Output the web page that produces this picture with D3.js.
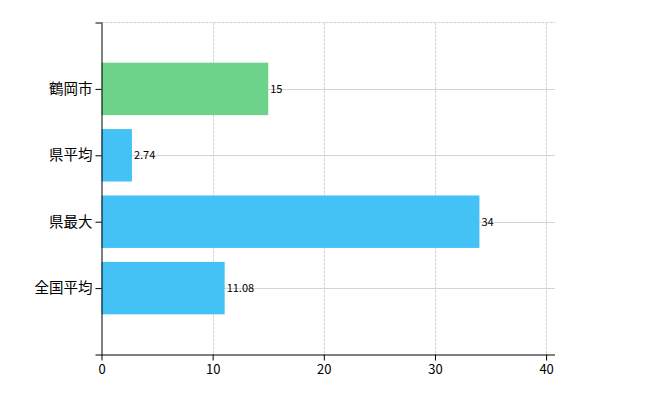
<!DOCTYPE html>
<html><head><meta charset="utf-8">
<script src="https://cdn.jsdelivr.net/npm/d3@7"></script>
<style>
body{margin:0;background:#fff;}
text{font-family:"Segoe UI","Noto Sans CJK JP",sans-serif;}
</style></head>
<body><svg id="c" width="650" height="400"></svg>
<script>
const categories = ["鶴岡市","県平均","県最大","全国平均"];
const values = [15, 2.74, 34, 11.08];
const valueLabels = ["15","2.74","34","11.08"];
const barColors = ["#6dd38a","#44c2f6","#44c2f6","#44c2f6"];
const xTicks = [0,10,20,30,40];

(function(){
const svg = d3.select("#c");
const pL = 101.5, pR = 555, pT = 22.5, pB = 354.5;
const x = d3.scaleLinear().domain([0, 40.8]).range([pL, pR]);
const y = d3.scalePoint().domain(categories).range([pT, pB]).padding(1);
const bh = y.step() * 0.79;

// vertical grid
svg.append("g").selectAll("line").data(xTicks.slice(1)).join("line")
  .attr("x1", d => Math.round(x(d)) + 0.5).attr("x2", d => Math.round(x(d)) + 0.5)
  .attr("y1", pT).attr("y2", pB)
  .attr("stroke", "#d4d4d4").attr("stroke-dasharray", "3,1");
// top grid line
svg.append("line").attr("x1", pL).attr("x2", pR).attr("y1", pT).attr("y2", pT)
  .attr("stroke", "#d4d4d4").attr("stroke-dasharray", "3,1");
// horizontal grid at categories
svg.append("g").selectAll("line").data(categories).join("line")
  .attr("x1", pL).attr("x2", pR)
  .attr("y1", d => Math.round(y(d)) + 0.5).attr("y2", d => Math.round(y(d)) + 0.5)
  .attr("stroke", "#d4d4d4");

// bars
svg.append("g").selectAll("rect").data(categories).join("rect")
  .attr("x", x(0)).attr("y", d => y(d) - bh / 2)
  .attr("width", (d, i) => x(values[i]) - x(0)).attr("height", bh)
  .attr("fill", (d, i) => barColors[i]);

// value labels
svg.append("g").selectAll("text").data(categories).join("text")
  .attr("x", (d, i) => x(values[i]) + 2).attr("y", d => y(d) + 4)
  .attr("font-size", 11).attr("fill", "#000")
  .text((d, i) => valueLabels[i]);

// axes
const xAxis = d3.axisBottom(x).tickValues(xTicks).tickSizeOuter(0).tickSize(6).tickPadding(4);
const gx = svg.append("g").attr("transform", `translate(0,${pB})`).call(xAxis);
gx.select(".domain").attr("d", `M${pL - 6},0.5H${pR}`);
gx.selectAll("text").attr("font-size", 13).attr("font-family", '"Segoe UI","Noto Sans CJK JP",sans-serif').attr("fill", "#000");
gx.selectAll("line").attr("stroke", "#000");

const yAxis = d3.axisLeft(y).tickSize(6).tickSizeOuter(0).tickPadding(3);
const gy = svg.append("g").attr("transform", `translate(${pL},0)`).call(yAxis);
gy.select(".domain").attr("d", `M0.5,${pT}V${pB}`);
gy.append("line").attr("x1", -6).attr("x2", 0).attr("y1", pT + 0.5).attr("y2", pT + 0.5).attr("stroke", "#000");
gy.selectAll("text").attr("font-size", 14.5).attr("font-family", '"Noto Sans CJK JP",sans-serif').attr("fill", "#000");
gy.selectAll("line").attr("stroke", "#000");
})();
</script></body></html>
